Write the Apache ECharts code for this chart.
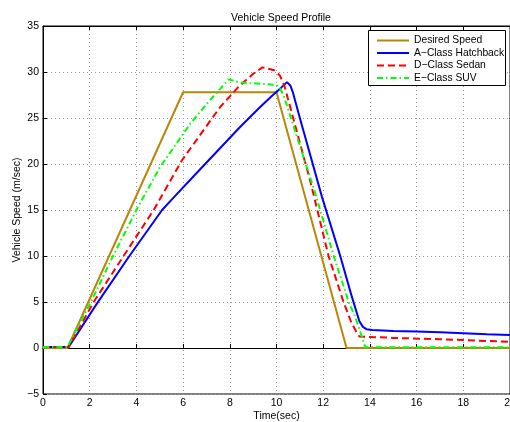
<!DOCTYPE html>
<html>
<head>
<meta charset="utf-8">
<script src="https://cdn.jsdelivr.net/npm/echarts@6/dist/echarts.min.js"></script>
<style>
  html, body { margin: 0; padding: 0; background: #fff; }
  #speedChart { width: 510px; height: 422px; }
</style>
</head>
<body>
<div id="speedChart"></div>
<script>
// 图例名称
var seriesNames = ['Desired Speed', 'A\u2212Class Hatchback', 'D\u2212Class Sedan', 'E\u2212Class SUV'];

// Desired Speed
var desiredT = [0, 1.05, 6, 10, 13, 20];
var desiredV = [0, 0, 27.8, 27.8, 0, 0];

// A-Class Hatchback
var hatchT = [0, 1.1, 2.3, 3.7, 5.1, 5.5, 6.5, 7.5, 8.45, 9.3, 9.8, 10.2, 10.45, 10.6, 10.7, 11.0, 11.95, 12.73, 13.2, 13.55, 13.7, 13.85, 14.1, 15, 16, 17, 18, 19, 20];
var hatchV = [0.1, 0.1, 4.8, 10, 15, 16.1, 18.8, 21.5, 24.05, 26.2, 27.4, 28.3, 28.9, 28.5, 27.8, 25.0, 16.4, 10, 5.8, 2.9, 2.3, 2.05, 1.95, 1.85, 1.78, 1.7, 1.6, 1.5, 1.41];

// D-Class Sedan
var sedanT = [0, 1.1, 2.17, 3.45, 4.74, 5.95, 6.74, 7.59, 8.38, 9.0, 9.4, 9.9, 10.15, 10.35, 11.45, 12.23, 12.87, 13.2, 13.45, 13.55, 15, 17, 20];
var sedanV = [0.1, 0.1, 5, 10, 15, 20.4, 23.2, 26.2, 28.4, 29.8, 30.5, 30.2, 29.6, 28.4, 18.1, 10, 5, 2.8, 1.6, 1.25, 1.1, 0.95, 0.68];

// E-Class SUV
var suvT = [0, 1.05, 2.05, 3.0, 4.0, 5.02, 6.31, 7.17, 7.6, 7.95, 8.45, 9.5, 10.0, 10.15, 10.3, 11.66, 12.45, 13.09, 13.37, 13.66, 13.8, 14, 20];
var suvV = [0.1, 0.1, 5, 10, 15, 19.7, 24.4, 27, 28.2, 29.2, 28.85, 28.7, 28.6, 28.2, 27.5, 16.8, 10, 5, 3.4, 1.2, 0.1, 0.08, 0.08];

// 坐标轴刻度
var xTicks = [0, 2, 4, 6, 8, 10, 12, 14, 16, 18, 20];
var yTicks = [-5, 0, 5, 10, 15, 20, 25, 30, 35];

function zipPoints(t, v) {
  var out = [];
  for (var i = 0; i < t.length; i++) out.push([t[i], v[i]]);
  return out;
}

var fontName = 'Liberation Sans, Arial, sans-serif';
var chart = echarts.init(document.getElementById('speedChart'));

var dotted = { color: '#9a9a9a', width: 1, type: [1, 3] };

chart.setOption({
  animation: false,
  title: {
    text: 'Vehicle Speed Profile',
    left: 276,
    textAlign: 'center',
    top: 8,
    textStyle: { fontFamily: fontName, fontSize: 10.5, fontWeight: 'normal', color: '#000' }
  },
  grid: {
    left: 43,
    top: 26,
    width: 467,
    height: 368,
    outerBoundsMode: 'none',
    containLabel: false,
    show: true,
    borderColor: '#000',
    borderWidth: 1,
    backgroundColor: '#fff'
  },
  graphic: [{
    type: 'rect',
    left: 368,
    top: 30,
    shape: { width: 137, height: 55 },
    style: { fill: '#fff', stroke: '#000', lineWidth: 1 },
    z: 50
  }],
  legend: {
    orient: 'vertical',
    left: 376,
    top: 34.5,
    padding: 0,
    itemWidth: 32,
    itemHeight: 1,
    itemGap: 0.5,
    z: 60,
    itemStyle: { opacity: 0 },
    textStyle: { fontFamily: fontName, fontSize: 10.3, color: '#000', lineHeight: 12 },
    data: seriesNames
  },
  xAxis: [{
    type: 'value',
    min: 0,
    max: 20,
    interval: 2,
    name: 'Time(sec)',
    nameLocation: 'middle',
    nameGap: 17,
    nameMoveOverlap: false,
    nameTextStyle: { fontFamily: fontName, fontSize: 10.5, color: '#000' },
    axisLine: { lineStyle: { color: '#000', width: 1 } },
    axisTick: { inside: true, length: 4, lineStyle: { color: '#000' } },
    axisLabel: {
      fontFamily: fontName, fontSize: 10.5, color: '#000', margin: 4,
      showMaxLabel: true, hideOverlap: false
    },
    splitLine: { show: true, lineStyle: dotted }
  }, {
    type: 'value',
    position: 'top',
    min: 0,
    max: 20,
    interval: 2,
    axisLine: { lineStyle: { color: '#000', width: 1 } },
    axisTick: { inside: true, length: 4, lineStyle: { color: '#000' } },
    axisLabel: { show: false },
    splitLine: { show: false }
  }],
  yAxis: [{
    type: 'value',
    min: -5,
    max: 35,
    interval: 5,
    name: 'Vehicle Speed (m/sec)',
    nameLocation: 'middle',
    nameGap: 20,
    nameMoveOverlap: false,
    nameTextStyle: { fontFamily: fontName, fontSize: 10.5, color: '#000' },
    axisLine: { lineStyle: { color: '#000', width: 1 } },
    axisTick: { inside: true, length: 4, lineStyle: { color: '#000' } },
    axisLabel: {
      fontFamily: fontName, fontSize: 10.5, color: '#000', margin: 4,
      formatter: function (v) { return String(v).replace('-', '\u2212'); }
    },
    splitLine: { show: true, lineStyle: dotted }
  }],
  series: [
    {
      name: seriesNames[0], type: 'line', symbol: 'none', z: 3,
      lineStyle: { color: '#b8860b', width: 2 },
      itemStyle: { color: '#b8860b' },
      data: zipPoints(desiredT, desiredV)
    },
    {
      name: seriesNames[1], type: 'line', symbol: 'none', z: 4,
      lineStyle: { color: '#0000ff', width: 2 },
      itemStyle: { color: '#0000ff' },
      data: zipPoints(hatchT, hatchV)
    },
    {
      name: seriesNames[2], type: 'line', symbol: 'none', z: 5,
      lineStyle: { color: '#ff0000', width: 2, type: [7, 4] },
      itemStyle: { color: '#ff0000' },
      data: zipPoints(sedanT, sedanV)
    },
    {
      name: seriesNames[3], type: 'line', symbol: 'none', z: 6,
      lineStyle: { color: '#00ff00', width: 2, type: [6, 3, 1.5, 3] },
      itemStyle: { color: '#00ff00' },
      data: zipPoints(suvT, suvV)
    }
  ]
});
</script>
</body>
</html>
